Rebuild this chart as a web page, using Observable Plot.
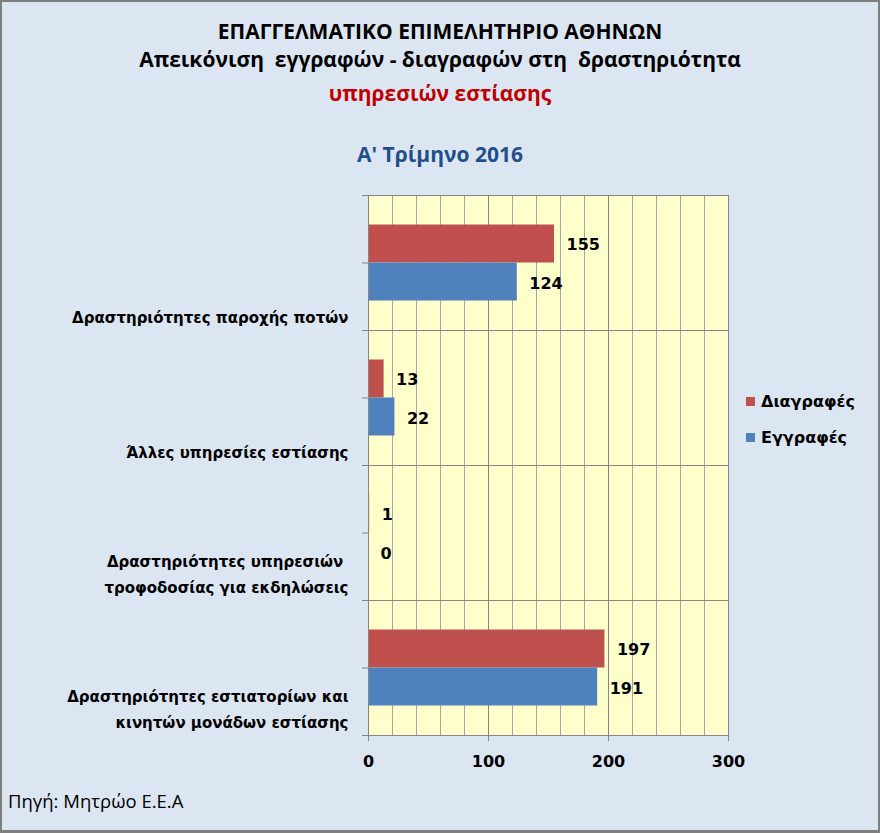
<!DOCTYPE html>
<html>
<head>
<meta charset="utf-8">
<script src="https://cdn.jsdelivr.net/npm/d3@7"></script>
<script src="https://cdn.jsdelivr.net/npm/@observablehq/plot@0.6"></script>
<style>
  html, body { margin: 0; padding: 0; background: #DCE6F2; }
  #chart { position: relative; width: 880px; height: 833px; background: #DCE6F2; overflow: hidden; }
  #chart > svg { position: absolute; left: 0; top: 0; }
  .t { position: absolute; left: 0; width: 880px; text-align: center; font-family: "Open Sans", sans-serif; font-weight: bold; line-height: 1; white-space: pre; }
  #border { position: absolute; left: 0; top: 0; width: 880px; height: 833px; box-sizing: border-box; border: 2px solid #7f7f7f; border-bottom-width: 3px; pointer-events: none; }
  .leg { position: absolute; left: 746px; font-family: "DejaVu Sans", sans-serif; font-weight: bold; font-size: 16px; line-height: 1; }
  .leg span.sw { display: inline-block; width: 9px; height: 9px; margin-right: 6px; vertical-align: 1px; }
  #cap { position: absolute; left: 8px; top: 792px; font-family: "Open Sans", sans-serif; font-size: 18.5px; line-height: 1; }
</style>
</head>
<body>
<div id="chart">
  <div class="t" style="top:21px;font-size:21px;color:#000">ΕΠΑΓΓΕΛΜΑΤΙΚΟ ΕΠΙΜΕΛΗΤΗΡΙΟ ΑΘΗΝΩΝ</div>
  <div class="t" style="top:49px;font-size:21px;color:#000">Απεικόνιση  εγγραφών - διαγραφών στη  δραστηριότητα</div>
  <div class="t" style="top:83px;font-size:21px;color:#C00000">υπηρεσιών εστίασης</div>
  <div class="t" style="top:144px;font-size:21px;color:#1F4E8C">Α' Τρίμηνο 2016</div>
  <div class="leg" style="top:394px"><span class="sw" style="background:#C0504D"></span>Διαγραφές</div>
  <div class="leg" style="top:430px"><span class="sw" style="background:#4F81BD"></span>Εγγραφές</div>
  <div id="cap">Πηγή: Μητρώο Ε.Ε.Α</div>
  <div id="border"></div>
</div>
<script>
const categories = [
  "Δραστηριότητες παροχής ποτών",
  "Άλλες υπηρεσίες εστίασης",
  "Δραστηριότητες υπηρεσιών \nτροφοδοσίας για εκδηλώσεις",
  "Δραστηριότητες εστιατορίων και\nκινητών μονάδων εστίασης"
];
const diagrafes = [155, 13, 1, 197];   // Διαγραφές
const eggrafes = [124, 22, 0, 191];    // Εγγραφές
const seriesNames = ["Διαγραφές", "Εγγραφές"];
const xTicks = [0, 100, 200, 300];

const rowsD = categories.map((c, i) => ({category: c, series: seriesNames[0], value: diagrafes[i]}));
const rowsE = categories.map((c, i) => ({category: c, series: seriesNames[1], value: eggrafes[i]}));

const plot = Plot.plot({
  width: 880,
  height: 833,
  marginTop: 195,
  marginBottom: 98,
  marginLeft: 368,
  marginRight: 152,
  style: {background: "transparent", fontFamily: "DejaVu Sans, sans-serif", fontSize: "16px", fontWeight: "bold", color: "#000", overflow: "visible"},
  x: {domain: [0, 300]},
  y: {domain: categories, padding: 0},
  marks: [
    Plot.frame({fill: "#FFFFCC", stroke: "none"}),
    Plot.gridX({interval: 20, stroke: "#a6a6a6", strokeOpacity: 1}),
    Plot.gridX(xTicks, {stroke: "#868686", strokeOpacity: 1}),
    Plot.ruleY(categories, {dy: 67.5, stroke: "#868686"}),
    Plot.ruleY(categories.slice(0, 1), {dy: -67.5, stroke: "#868686"}),
    Plot.barX(rowsD, {x: "value", y: "category", fill: "#C0504D", insetTop: 29.5, insetBottom: 67.5}),
    Plot.barX(rowsE, {x: "value", y: "category", fill: "#4F81BD", insetTop: 67.5, insetBottom: 29.5}),
    Plot.text(rowsD, {x: "value", y: "category", text: d => String(d.value), dx: 12, dy: -18, textAnchor: "start", fontSize: 16, fill: "#000"}),
    Plot.text(rowsE, {x: "value", y: "category", text: d => String(d.value), dx: 12, dy: 21, textAnchor: "start", fontSize: 16, fill: "#000"}),
    Plot.ruleX([0], {stroke: "#868686"}),
    Plot.axisX({ticks: xTicks, tickSize: 6, tickPadding: 14, label: null, fontSize: 16, stroke: "#868686", fill: "#000"}),
    Plot.axisY({tickSize: 6, tickFormat: () => "", label: null, stroke: "#868686"}),
    Plot.axisY({tickSize: 6, tickFormat: () => "", label: null, stroke: "#868686", dy: 67.5}),
    Plot.axisY({ticks: categories.slice(0, 1), tickSize: 6, tickFormat: () => "", label: null, stroke: "#868686", dy: -67.5}),
    Plot.text(categories, {y: d => d, text: d => d, frameAnchor: "left", textAnchor: "end", lineAnchor: "bottom", lineHeight: 1.73, dx: -20, dy: 60, fontSize: 15, fill: "#000"})
  ]
});
document.getElementById("chart").insertBefore(plot, document.getElementById("border"));
</script>
</body>
</html>
